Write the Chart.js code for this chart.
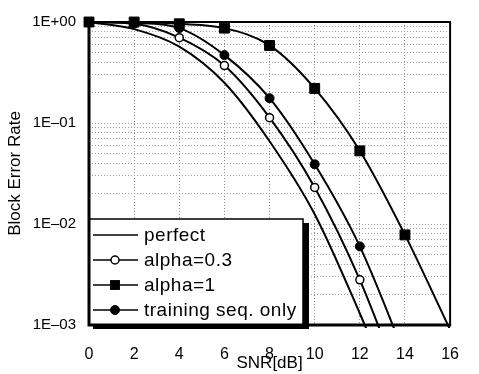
<!DOCTYPE html>
<html><head><meta charset="utf-8">
<script src="https://cdn.jsdelivr.net/npm/chart.js@4/dist/chart.umd.min.js"></script>
<style>html,body{margin:0;padding:0;background:#fff;} #wrap{width:479px;height:374px;}</style>
</head><body><div id="wrap"><canvas id="c" width="479" height="374"></canvas></div>
<script>
// ---- data ----
const snr = [0, 2, 4, 6, 8, 10, 12, 14, 16];
const perfect      = [1.0, 0.85, 0.57, 0.25, 0.066, 0.0125, 0.0013, 0.00011, null];
const alpha03      = [1.0, 0.96, 0.70, 0.37, 0.113, 0.023, 0.0028, 0.0002, null];
const alpha1       = [1.0, 1.0, 0.96, 0.87, 0.586, 0.22, 0.053, 0.0078, 0.0009];
const trainingOnly = [1.0, 0.98, 0.87, 0.47, 0.176, 0.039, 0.006, 0.0005, null];
const seriesNames = ['perfect', 'alpha=0.3', 'alpha=1', 'training seq. only'];
const xTickLabels = ['0', '2', '4', '6', '8', '10', '12', '14', '16'];
const yTickValues = [1, 0.1, 0.01, 0.001];
const yTickLabels = ['1E+00', '1E\u201301', '1E\u201302', '1E\u201303'];
const yMinorSteps = [1, 2, 3, 4, 5, 6, 7, 8, 9];
const xTitle = 'SNR[dB]';
const yTitle = 'Block Error Rate';

// ---- setup ----
const Y_MIN = Math.min(...yTickValues), Y_MAX = Math.max(...yTickValues);
const FONT = '"Liberation Sans", Arial, Helvetica, sans-serif';
Chart.defaults.font.family = FONT;
Chart.defaults.color = '#000';

const gridTicks = [];
yTickValues.slice().sort((a, b) => a - b).forEach(d => {
  yMinorSteps.forEach(m => { const v = d * m; if (v <= Y_MAX * 1.0000001) gridTicks.push(+v.toPrecision(6)); });
});

function pts(arr) { return snr.map((x, i) => ({x: x, y: arr[i]})); }
function radiusFor(r) { return ctx => (ctx.raw && ctx.raw.y != null && ctx.raw.y < Y_MIN) ? 0 : r; }

const styles = [
  {pointStyle: 'circle', radius: 0, fill: '#000', bw: 0},
  {pointStyle: 'circle', radius: 4, fill: '#fff', bw: 1.5},
  {pointStyle: 'rect', radius: 7, fill: '#000', bw: 1},
  {pointStyle: 'circle', radius: 4.5, fill: '#000', bw: 1}
];
const seriesData = [perfect, alpha03, alpha1, trainingOnly];
const orders = [3, 2, 0, 1];

const datasets = seriesData.map((arr, i) => ({
  label: seriesNames[i],
  data: pts(arr),
  borderColor: '#000',
  borderWidth: 2,
  backgroundColor: styles[i].fill,
  pointStyle: styles[i].pointStyle,
  pointRadius: radiusFor(styles[i].radius),
  pointBackgroundColor: styles[i].fill,
  pointBorderColor: '#000',
  pointBorderWidth: styles[i].bw,
  cubicInterpolationMode: 'monotone',
  clip: {left: 10, top: 10, right: 10, bottom: 3},
  order: orders[i]
}));

const framePlugin = {
  id: 'frameAndLegend',
  afterDraw(chart) {
    const ctx = chart.ctx, a = chart.chartArea;
    // legend box
    const bl = a.left, bb = a.bottom, bw = 214, bh = 106;
    const bt = bb - bh, br = bl + bw;
    ctx.save();
    ctx.fillStyle = '#000';
    ctx.fillRect(br, bt + 4, 6, bh);
    ctx.fillRect(bl + 4, bb, bw + 2, 4);
    ctx.fillStyle = '#fff';
    ctx.fillRect(bl, bt, bw, bh);
    ctx.strokeStyle = '#000';
    ctx.lineWidth = 1.5;
    ctx.strokeRect(bl, bt, bw, bh);
    const rowYs = [bb - 90, bb - 65, bb - 40, bb - 15];
    ctx.font = '19px ' + FONT;
    try { ctx.letterSpacing = '0.5px'; } catch (e) {}
    ctx.textBaseline = 'middle';
    ctx.textAlign = 'left';
    seriesNames.forEach((name, i) => {
      const y = rowYs[i];
      ctx.strokeStyle = '#000';
      ctx.lineWidth = 1.5;
      ctx.beginPath(); ctx.moveTo(bl + 4, y); ctx.lineTo(bl + 49, y); ctx.stroke();
      const s = styles[i], cx = bl + 26;
      if (s.radius > 0) {
        ctx.fillStyle = s.fill;
        ctx.lineWidth = s.bw;
        if (s.pointStyle === 'rect') {
          const h = s.radius * Math.SQRT1_2;
          ctx.fillRect(cx - h, y - h, 2 * h, 2 * h);
        } else {
          ctx.beginPath(); ctx.arc(cx, y, s.radius, 0, Math.PI * 2);
          ctx.fill(); ctx.stroke();
        }
      }
      ctx.fillStyle = '#000';
      ctx.fillText(name, bl + 55, y + 1);
    });
    try { ctx.letterSpacing = '0px'; } catch (e) {}
    // frame
    ctx.strokeStyle = '#000';
    ctx.lineWidth = 2;
    ctx.beginPath(); ctx.moveTo(a.left, a.top); ctx.lineTo(a.right, a.top); ctx.lineTo(a.right, a.bottom); ctx.stroke();
    ctx.lineWidth = 3;
    ctx.beginPath(); ctx.moveTo(a.left, a.top - 1); ctx.lineTo(a.left, a.bottom); ctx.lineTo(a.right + 1, a.bottom); ctx.stroke();
    ctx.restore();
  }
};

new Chart(document.getElementById('c'), {
  type: 'line',
  data: {datasets},
  options: {
    responsive: false,
    animation: false,
    devicePixelRatio: 1,
    layout: {padding: {top: 15, right: 14, left: 0, bottom: 0}},
    plugins: {legend: {display: false}, tooltip: {enabled: false}},
    scales: {
      x: {
        type: 'linear', min: snr[0], max: snr[snr.length - 1],
        afterBuildTicks: s => { s.ticks = snr.map(v => ({value: v})); },
        afterFit: s => { s.height = 49; },
        ticks: {autoSkip: false, maxRotation: 0, padding: 20, font: {size: 16},
          callback: (v) => { const i = snr.indexOf(v); return i >= 0 ? xTickLabels[i] : ''; }},
        grid: {color: '#8a8a8a', lineWidth: 1, drawTicks: false},
        border: {display: false, dash: [1, 2]},
        title: {display: true, text: xTitle, font: {size: 17}, padding: {top: 0, bottom: 0}}
      },
      y: {
        type: 'logarithmic', min: Y_MIN, max: Y_MAX,
        afterBuildTicks: s => { s.ticks = gridTicks.map(v => ({value: v})); },
        afterFit: s => { s.width = 89; },
        ticks: {autoSkip: false, padding: 13, font: {size: 15},
          callback: (v) => {
            const i = yTickValues.findIndex(t => Math.abs(t - v) < t * 1e-6);
            return i >= 0 ? yTickLabels[i] : '';
          }},
        grid: {color: '#a0a0a0', lineWidth: 1, drawTicks: false},
        border: {display: false, dash: [1, 2]},
        title: {display: true, text: yTitle, font: {size: 17}, padding: {top: 5, bottom: 0}}
      }
    }
  },
  plugins: [framePlugin]
});
</script>
</body></html>
